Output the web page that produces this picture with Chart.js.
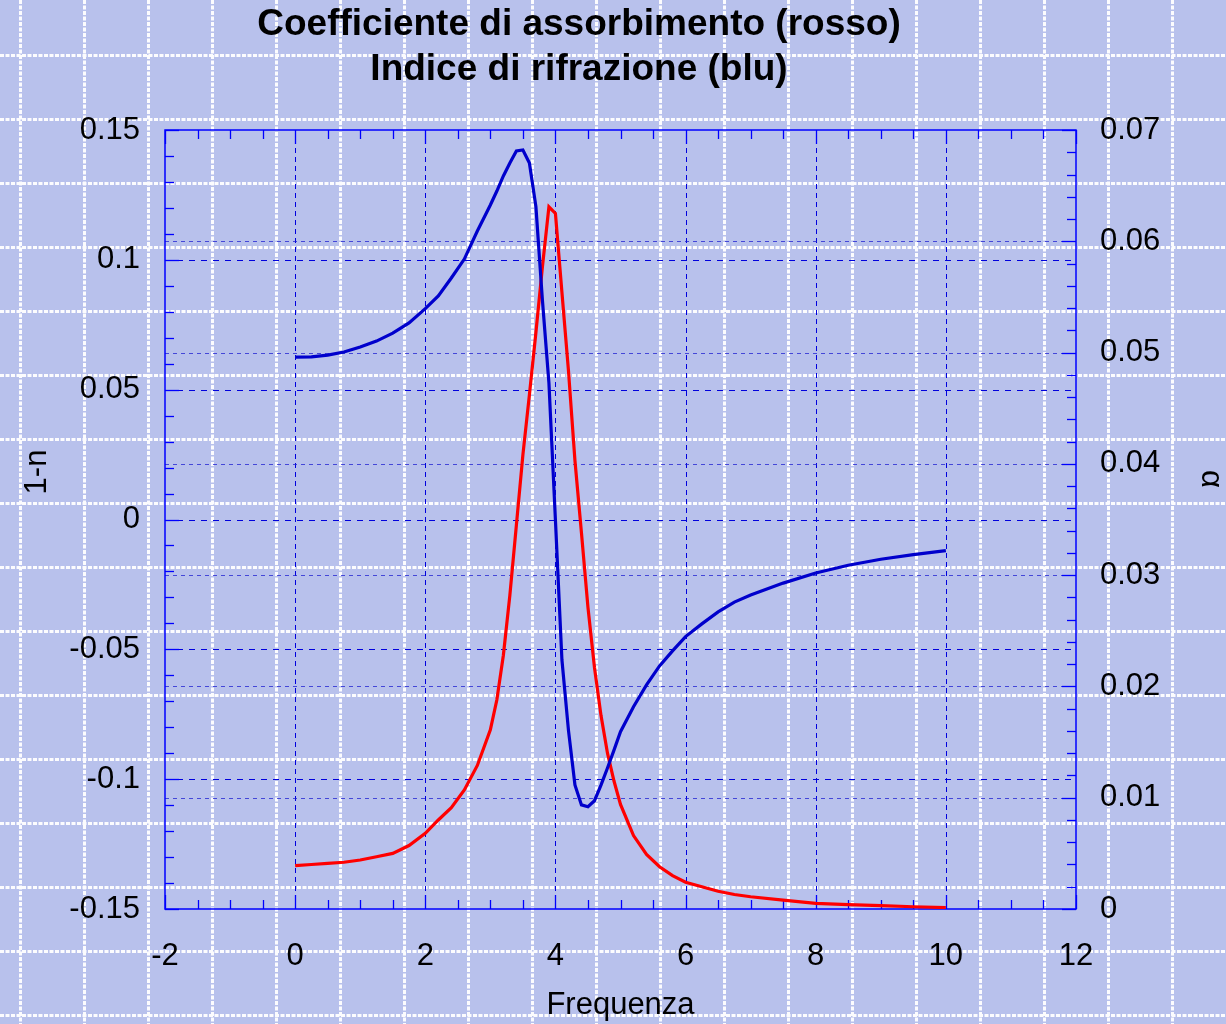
<!DOCTYPE html>
<html lang="it">
<head>
<meta charset="UTF-8">
<title>Coefficiente di assorbimento e indice di rifrazione</title>
<script src="https://cdn.jsdelivr.net/npm/chart.js@4.4.1/dist/chart.umd.min.js"></script>
<style>
    html, body { margin: 0; padding: 0; background: #b8c1ec; }
    #wrap { width: 1226px; height: 1024px; }
</style>
</head>
<body>
<div id="wrap"><canvas id="chart" width="1226" height="1024"></canvas></div>
<script>
// frequency samples (same for both curves)
const freq = [0, 0.25, 0.5, 0.75, 1, 1.25, 1.5, 1.75, 2, 2.2, 2.4, 2.6, 2.8,
    3, 3.1, 3.2, 3.3, 3.4, 3.5, 3.6, 3.7, 3.8, 3.9, 4, 4.1, 4.2, 4.3, 4.4, 4.5,
    4.6, 4.7, 4.8, 4.9, 5, 5.2, 5.4, 5.6, 5.8, 6, 6.25, 6.5, 6.75, 7, 7.5, 8,
    8.5, 9, 9.5, 10];

// 1-n (left axis, blue)
const oneMinusN = [0.0625, 0.0626, 0.0633, 0.0645, 0.0664, 0.0687, 0.0718, 0.0757,
    0.0812, 0.0861, 0.0930, 0.1003, 0.1111,
    0.1211, 0.1265, 0.1323, 0.1373, 0.1419, 0.1423, 0.1373, 0.1205, 0.0845, 0.0526,
    -0.0002, -0.0541, -0.0811, -0.1022, -0.1099, -0.1106,
    -0.1083, -0.1023, -0.0957, -0.0888, -0.0817, -0.0721, -0.0637, -0.0564, -0.0506,
    -0.0451, -0.0402, -0.0356, -0.0318, -0.0291, -0.0245, -0.0206,
    -0.0176, -0.0153, -0.0135, -0.0120];

// alpha (right axis, red)
const alpha = [0.0039, 0.0040, 0.0041, 0.0042, 0.0044, 0.0047, 0.0050, 0.0057,
    0.0068, 0.0080, 0.0091, 0.0107, 0.0129,
    0.0161, 0.0188, 0.0228, 0.0282, 0.0345, 0.0408, 0.0462, 0.0518, 0.0577, 0.0631,
    0.0625, 0.0554, 0.0484, 0.0403, 0.0338, 0.0271,
    0.0217, 0.0174, 0.0140, 0.0115, 0.0094, 0.0066, 0.0049, 0.0038, 0.0030,
    0.0024, 0.0020, 0.0016, 0.0013, 0.0011, 0.0008, 0.0005,
    0.0004, 0.0003, 0.0002, 0.00013];

const xTicks = [-2, 0, 2, 4, 6, 8, 10, 12];
const leftTicks = [-0.15, -0.1, -0.05, 0, 0.05, 0.1, 0.15];
const rightTicks = [0, 0.01, 0.02, 0.03, 0.04, 0.05, 0.06, 0.07];

const titleLines = ['Coefficiente di assorbimento (rosso)', 'Indice di rifrazione (blu)'];
const xTitle = 'Frequenza';
const yTitle = '1-n';
const y2Title = 'α';

const FONT = "'Liberation Sans', Arial, Helvetica, sans-serif";
const BG = '#b8c1ec';
const FRAME = '#0000ff';

function line(ctx, x1, y1, x2, y2) {
    ctx.beginPath();
    ctx.moveTo(x1, y1);
    ctx.lineTo(x2, y2);
    ctx.stroke();
}

// page background, grid, frame, inward ticks and titles
const decor = {
    id: 'decor',
    beforeDraw(chart) {
        const ctx = chart.ctx, w = chart.width, h = chart.height;
        ctx.save();
        ctx.fillStyle = BG;
        ctx.fillRect(0, 0, w, h);
        ctx.strokeStyle = 'rgba(255,255,255,0.95)';
        ctx.lineWidth = 3;
        ctx.setLineDash([4, 1.5]);
        ctx.beginPath();
        for (let x = 20.5; x < w; x += 64) { ctx.moveTo(x, 0); ctx.lineTo(x, h); }
        for (let y = 55.5; y < h; y += 64) { ctx.moveTo(0, y); ctx.lineTo(w, y); }
        ctx.stroke();
        ctx.restore();
    },
    beforeDatasetsDraw(chart) {
        const { ctx, chartArea: a, scales } = chart;
        const sx = scales.x, sy = scales.y, sy2 = scales.y2;
        ctx.save();
        ctx.lineWidth = 1;

        // grid lines
        ctx.strokeStyle = '#0000dd';
        ctx.setLineDash([5, 4]);
        xTicks.slice(1, -1).forEach(v => {
            const px = Math.round(sx.getPixelForValue(v)) + 0.5;
            line(ctx, px, a.top, px, a.bottom);
        });
        ctx.setLineDash([6, 6]);
        leftTicks.slice(1, -1).forEach(v => {
            const py = Math.round(sy.getPixelForValue(v)) + 0.5;
            line(ctx, a.left, py, a.right, py);
        });
        ctx.strokeStyle = 'rgba(30,30,210,0.75)';
        ctx.setLineDash([4, 4]);
        rightTicks.slice(1, -1).forEach(v => {
            const py = Math.round(sy2.getPixelForValue(v)) + 0.5;
            line(ctx, a.left, py, a.right, py);
        });
        ctx.setLineDash([]);

        // tick marks pointing inward
        ctx.strokeStyle = FRAME;
        ctx.lineWidth = 1.3;
        for (let i = 0; i <= 28; i++) {
            const px = Math.round(sx.getPixelForValue(-2 + i * 0.5)) + 0.5;
            const len = i % 4 === 0 ? 14 : 9;
            line(ctx, px, a.bottom, px, a.bottom - len);
            line(ctx, px, a.top, px, a.top + len);
        }
        for (let i = 0; i <= 30; i++) {
            const py = Math.round(sy.getPixelForValue(-0.15 + i * 0.01)) + 0.5;
            const len = i % 5 === 0 ? 14 : 9;
            line(ctx, a.left, py, a.left + len, py);
        }
        for (let i = 0; i <= 35; i++) {
            const py = Math.round(sy2.getPixelForValue(i * 0.002)) + 0.5;
            const len = i % 5 === 0 ? 14 : 9;
            line(ctx, a.right, py, a.right - len, py);
        }

        // frame
        ctx.lineWidth = 1.5;
        ctx.strokeRect(a.left, a.top, a.right - a.left, a.bottom - a.top);
        ctx.restore();
    },
    afterDraw(chart) {
        const ctx = chart.ctx;
        ctx.save();
        ctx.fillStyle = '#000';
        ctx.textAlign = 'center';
        ctx.textBaseline = 'middle';
        ctx.font = 'bold 37px ' + FONT;
        titleLines.forEach((t, i) => ctx.fillText(t, 579, 25 + i * 45));

        ctx.font = '31px ' + FONT;
        ctx.translate(37, 472);
        ctx.rotate(-Math.PI / 2);
        ctx.fillText(yTitle, 0, 0);
        ctx.restore();

        ctx.save();
        ctx.fillStyle = '#000';
        ctx.textAlign = 'center';
        ctx.textBaseline = 'middle';
        ctx.font = '31px ' + FONT;
        ctx.translate(1211, 479);
        ctx.rotate(Math.PI / 2);
        ctx.fillText(y2Title, 0, 0);
        ctx.restore();
    }
};

const tickFont = { family: FONT, size: 31 };

new Chart(document.getElementById('chart'), {
    type: 'line',
    data: {
        datasets: [
            {
                label: '1-n',
                data: freq.map((f, i) => ({ x: f, y: oneMinusN[i] })),
                yAxisID: 'y',
                borderColor: '#0000cc',
                borderWidth: 3.2,
                pointRadius: 0,
                tension: 0
            },
            {
                label: 'α',
                data: freq.map((f, i) => ({ x: f, y: alpha[i] })),
                yAxisID: 'y2',
                borderColor: '#ff0000',
                borderWidth: 3.2,
                pointRadius: 0,
                tension: 0
            }
        ]
    },
    options: {
        responsive: false,
        animation: false,
        devicePixelRatio: 1,
        layout: { padding: { top: 130, left: 0, right: 0, bottom: 0 } },
        plugins: {
            legend: { display: false },
            title: { display: false },
            tooltip: { enabled: false }
        },
        scales: {
            x: {
                type: 'linear',
                position: 'bottom',
                min: -2,
                max: 12,
                afterBuildTicks: s => { s.ticks = xTicks.map(v => ({ value: v })); },
                afterFit: s => { s.height = 115; },
                ticks: {
                    font: tickFont, color: '#000', padding: 29,
                    maxRotation: 0, autoSkip: false,
                    callback: v => String(v)
                },
                grid: { display: false, drawTicks: false },
                border: { display: false },
                title: {
                    display: true, text: xTitle, color: '#000',
                    font: tickFont, padding: 0
                }
            },
            y: {
                type: 'linear',
                position: 'left',
                min: -0.15,
                max: 0.15,
                afterBuildTicks: s => { s.ticks = leftTicks.map(v => ({ value: v })); },
                afterFit: s => { s.width = 165; },
                ticks: {
                    font: tickFont, color: '#000', padding: 25,
                    autoSkip: false, callback: v => String(v)
                },
                grid: { display: false, drawTicks: false },
                border: { display: false }
            },
            y2: {
                type: 'linear',
                position: 'right',
                min: 0,
                max: 0.07,
                afterBuildTicks: s => { s.ticks = rightTicks.map(v => ({ value: v })); },
                afterFit: s => { s.width = 150; },
                ticks: {
                    font: tickFont, color: '#000', padding: 24,
                    autoSkip: false, callback: v => String(v)
                },
                grid: { display: false, drawTicks: false },
                border: { display: false }
            }
        }
    },
    plugins: [decor]
});
</script>
</body>
</html>
